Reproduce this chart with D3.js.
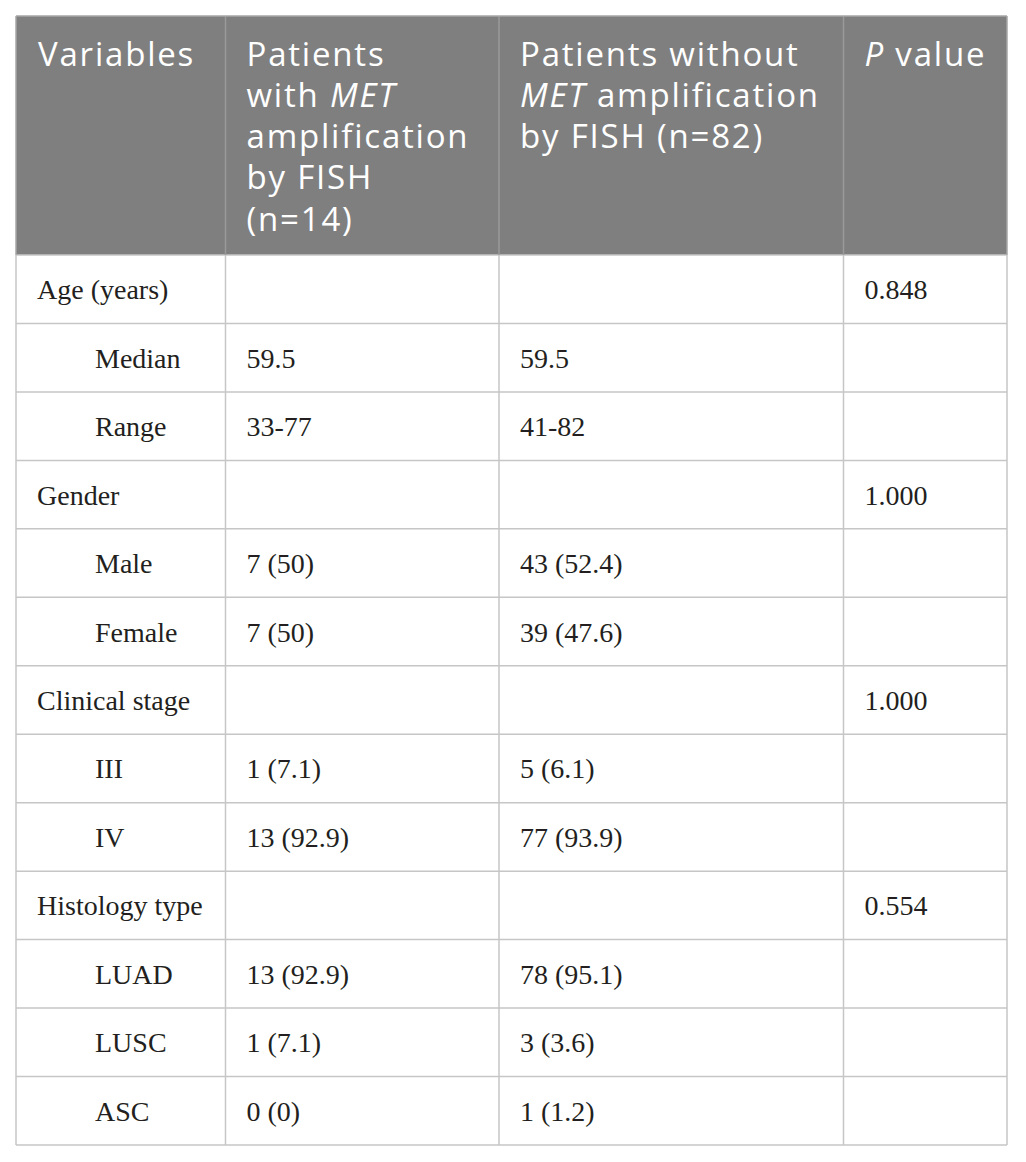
<!DOCTYPE html>
<html>
<head>
<meta charset="utf-8">
<script src="https://cdn.jsdelivr.net/npm/d3@7"></script>
<style>
  html, body { margin: 0; padding: 0; background: #fff; }
  svg { display: block; }
</style>
</head>
<body>
<svg id="chart" width="1026" height="1162"></svg>
<script>
// ---- data ----
// header lines: each line is a list of [text, italic]
const headers = [
  [[["Variables", false]]],
  [[["Patients", false]], [["with ", false], ["MET", true]], [["amplification", false]], [["by FISH", false]], [["(n=14)", false]]],
  [[["Patients without", false]], [["MET", true], [" amplification", false]], [["by FISH (n=82)", false]]],
  [[["P", true], [" value", false]]]
];
const variables = ["Age (years)", "Median", "Range", "Gender", "Male", "Female", "Clinical stage", "III", "IV", "Histology type", "LUAD", "LUSC", "ASC"];
const isSubRow   = [false, true, true, false, true, true, false, true, true, false, true, true, true];
const withMET    = ["", "59.5", "33-77", "", "7 (50)", "7 (50)", "", "1 (7.1)", "13 (92.9)", "", "13 (92.9)", "1 (7.1)", "0 (0)"];
const withoutMET = ["", "59.5", "41-82", "", "43 (52.4)", "39 (47.6)", "", "5 (6.1)", "77 (93.9)", "", "78 (95.1)", "3 (3.6)", "1 (1.2)"];
const pValues    = ["0.848", "", "", "1.000", "", "", "1.000", "", "", "0.554", "", "", ""];

// ---- layout ----
const colEdges = [16, 225.5, 499, 843.5, 1007];
const tableTop = 16, headerBottom = 255, tableBottom = 1145;
const textPad = 21;
const subIndent = 58;

const svg = d3.select("#chart");

const y = d3.scaleBand()
  .domain(d3.range(variables.length))
  .range([headerBottom, tableBottom])
  .paddingInner(0).paddingOuter(0);

// header background
svg.append("rect")
  .attr("x", colEdges[0]).attr("y", tableTop)
  .attr("width", colEdges[4] - colEdges[0]).attr("height", headerBottom - tableTop)
  .attr("fill", "#7f7f7f");

// header texts
const headerFont = "'Open Sans', 'Noto Sans', sans-serif";
const headerLineH = 41.3;
headers.forEach((lines, ci) => {
  const t = svg.append("text")
    .attr("font-family", headerFont)
    .attr("font-size", 33)
    .attr("letter-spacing", 1.8)
    .attr("fill", "#ffffff");
  lines.forEach((segs, li) => {
    segs.forEach((seg, si) => {
      const ts = t.append("tspan").text(seg[0]);
      if (si === 0) ts.attr("x", colEdges[ci] + textPad + (ci === 0 ? 1 : 0)).attr("y", 65.5 + li * headerLineH);
      if (seg[1]) ts.attr("font-style", "italic");
    });
  });
});

// body cells
const bodyFont = "'Liberation Serif', 'Times New Roman', serif";
const cols = [variables, withMET, withoutMET, pValues];
const bodyG = svg.append("g");
variables.forEach((v, ri) => {
  cols.forEach((arr, ci) => {
    const txt = arr[ri];
    if (!txt) return;
    let x = colEdges[ci] + textPad;
    if (ci === 0 && isSubRow[ri]) x += subIndent;
    bodyG.append("text")
      .attr("x", x)
      .attr("y", y(ri) + y.bandwidth() / 2 + 10)
      .attr("font-family", bodyFont)
      .attr("font-size", 28)
      .attr("fill", "#231f20")
      .text(txt);
  });
});

// grid lines - body horizontal
const gridColor = "#c6c6c6";
svg.append("g").selectAll("line")
  .data(d3.range(1, variables.length + 1))
  .join("line")
  .attr("x1", colEdges[0]).attr("x2", colEdges[4])
  .attr("y1", d => y(d - 1) + y.bandwidth())
  .attr("y2", d => y(d - 1) + y.bandwidth())
  .attr("stroke", gridColor).attr("stroke-width", 1.5);

// header bottom line
svg.append("line")
  .attr("x1", colEdges[0]).attr("x2", colEdges[4])
  .attr("y1", headerBottom).attr("y2", headerBottom)
  .attr("stroke", gridColor).attr("stroke-width", 1.5);

// vertical lines
colEdges.forEach((cx, i) => {
  svg.append("line")
    .attr("x1", cx).attr("x2", cx)
    .attr("y1", headerBottom).attr("y2", tableBottom)
    .attr("stroke", gridColor).attr("stroke-width", 1.5);
  svg.append("line")
    .attr("x1", cx).attr("x2", cx)
    .attr("y1", tableTop).attr("y2", headerBottom)
    .attr("stroke", (i === 0 || i === 4) ? "#a6a6a6" : "#9a9a9a").attr("stroke-width", 1.5);
});
svg.append("line")
  .attr("x1", colEdges[0]).attr("x2", colEdges[4])
  .attr("y1", tableTop).attr("y2", tableTop)
  .attr("stroke", "#a6a6a6").attr("stroke-width", 1.5);
</script>
</body>
</html>
